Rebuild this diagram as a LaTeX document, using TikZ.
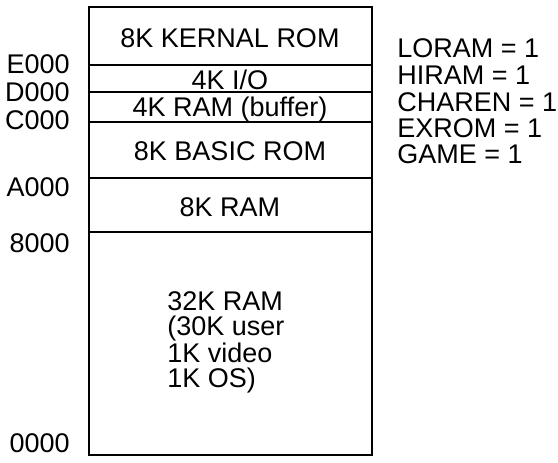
\documentclass[tikz,border=0pt]{standalone}
\usepackage{fontspec}
\setmainfont{Liberation Sans}
\usetikzlibrary{positioning, calc}
\newcommand{\memfont}{\fontsize{13.5}{12.5}\selectfont}
\tikzset{
  region/.style={font=\memfont, inner sep=0pt, anchor=base},
  addr/.style={font=\memfont, inner sep=0pt, anchor=east},
  flag/.style={font=\memfont, inner sep=0pt, anchor=west},
  frame/.style={line width=0.7pt, color=black},
  divider/.style={line width=0.6pt, color=black}
}
\begin{document}
\begin{tikzpicture}[x=0.5pt, y=-0.5pt]
  \useasboundingbox (0,0) rectangle (558,462);
  % memory map outline
  \draw[frame] (89,7) rectangle (372,455);
  \foreach \y in {65,92,122,178,232}
    \draw[divider] (89,\y) -- (372,\y);

  % regions
  \node[region] (kernal) at (230,47) {8K KERNAL ROM};
  \node[region] (io) at (230,89.5) {4K I/O};
  \node[region] (buffer) at (230,116) {4K RAM (buffer)};
  \node[region] (basic) at (230,160) {8K BASIC ROM};
  \node[region] (ram8) at (230,216) {8K RAM};
  \node[region, anchor=north west, align=left] (ram32) at (167,291)
    {32K RAM\\(30K user\\1K video\\1K OS)};

  % addresses
  \node[addr] (aE) at (70,64) {E000};
  \node[addr] (aD) at (70,92) {D000};
  \node[addr] (aC) at (70,120) {C000};
  \node[addr] (aA) at (70,187) {A000};
  \node[addr] (a8) at (70,243) {8000};
  \node[addr] (a0) at (70,443) {0000};

  % control lines
  \node[flag] (loram) at (397,48) {LORAM = 1};
  \node[flag] (hiram) at (397,75) {HIRAM = 1};
  \node[flag] (charen) at (397,102) {CHAREN = 1};
  \node[flag] (exrom) at (397,128) {EXROM = 1};
  \node[flag] (game) at (397,154) {GAME = 1};
\end{tikzpicture}
\end{document}
